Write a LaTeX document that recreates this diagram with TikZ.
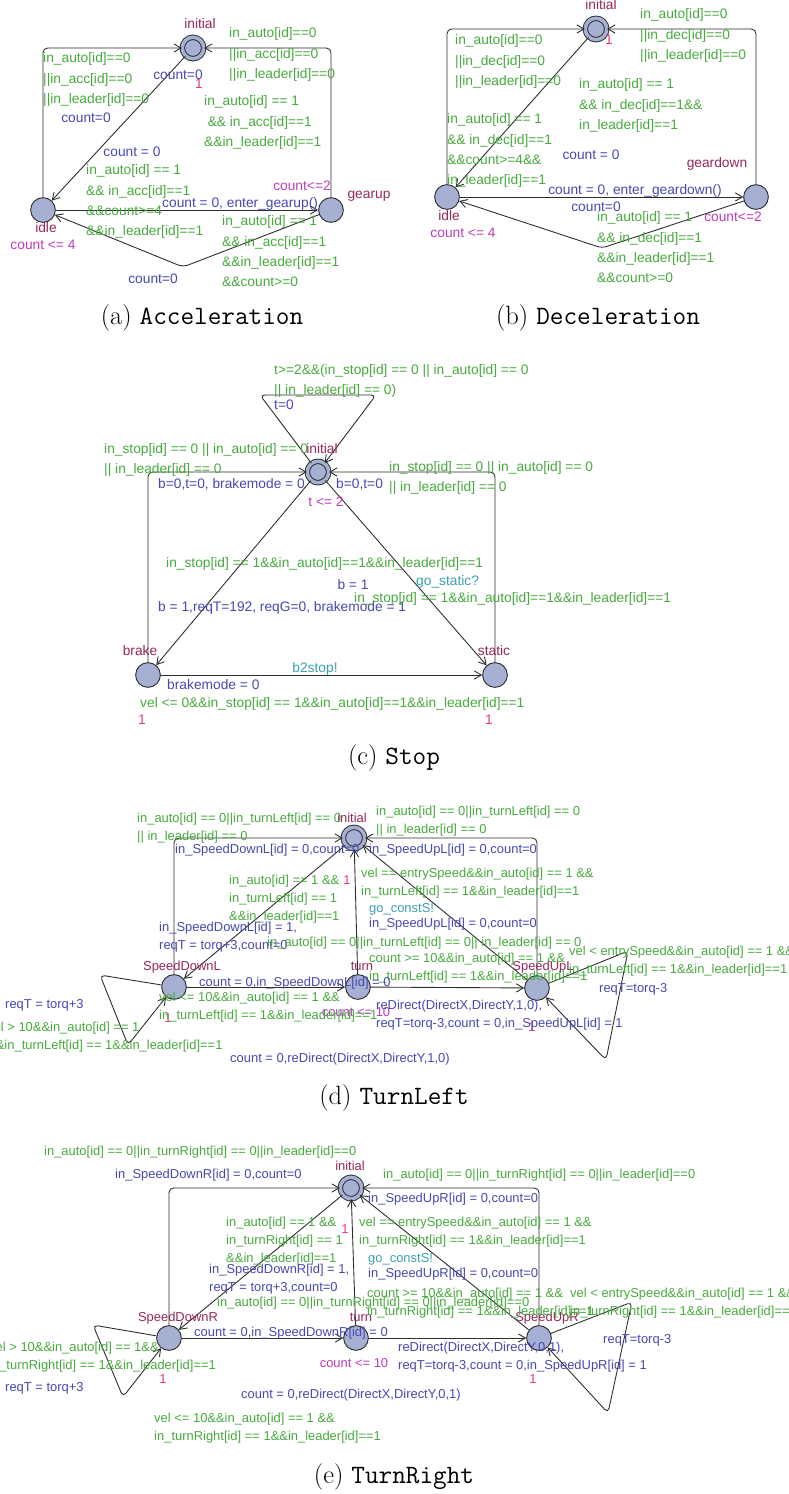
\documentclass[tikz,border=0pt]{standalone}
\usepackage{fontspec}
\newfontfamily\uppaalfont{Liberation Sans}
\usepackage{xcolor}
\definecolor{colorGuard}{RGB}{72,170,62}
\definecolor{colorUpdate}{RGB}{72,72,180}
\definecolor{colorSync}{RGB}{60,160,180}
\definecolor{colorInv}{RGB}{190,60,190}
\definecolor{colorName}{RGB}{150,40,90}
\definecolor{colorRate}{RGB}{230,60,120}
\definecolor{colorLoc}{RGB}{166,176,210}
\definecolor{colorEdge}{RGB}{45,45,45}
\usepackage{tikz}
\usetikzlibrary{arrows.meta}
\newcommand{\lbllines}[1]{\begin{tabular}[t]{@{}l@{}}#1\end{tabular}}
\tikzset{
  loc/.style={circle, draw=colorEdge, line width=0.8pt, fill=colorLoc, minimum size=21pt, inner sep=0pt},
  initloc/.style={loc, minimum size=18.2pt, double=colorLoc, double distance=3pt},
  trans/.style={draw=colorEdge, line width=0.75pt, ->, rounded corners=4pt},
  lbl/.style={inner sep=0pt, anchor=base west, yshift=-3.4pt, font=\uppaalfont\fontsize{11.7}{17.2}\selectfont},
  lblc/.style={lbl, anchor=base},
  guard/.style={lbl, text=colorGuard},
  assign/.style={lbl, text=colorUpdate},
  assignc/.style={lblc, text=colorUpdate},
  sync/.style={lbl, text=colorSync},
  syncc/.style={lblc, text=colorSync},
  locname/.style={lblc, text=colorName},
  invlbl/.style={lblc, text=colorInv},
  ratelbl/.style={lblc, text=colorRate},
  subcap/.style={inner sep=0pt, font=\fontsize{22.5}{27}\selectfont}
}
\begin{document}
\begin{tikzpicture}[x=0.85pt, y=-0.85pt, >={Straight Barb[length=6pt,width=7pt]}]
\useasboundingbox (0,0) rectangle (788,1494);
\fill[white] (0,0) rectangle (788,1494);

% (a) Acceleration
\node[initloc] (aInit) at (193,48) {};
\node[loc] (aIdle) at (43,210) {};
\node[loc] (aGear) at (331,210) {};
\coordinate (aBend) at (183,267);
\draw[trans] (aIdle) |- (aInit);
\draw[trans] (aGear) |- (aInit);
\draw[trans] (aInit) -- (aIdle);
\draw[trans] (aIdle) -- (aGear);
\draw[trans] (aGear) -- (aBend) -- (aIdle);
\node[locname] (aInitN) at (200,25) {initial};
\node[locname] (aIdleN) at (46,229) {idle};
\node[locname] (aGearN) at (369,195) {gearup};
\node[invlbl] (aIdleI) at (43,246) {count <= 4};
\node[invlbl] (aGearI) at (302,187) {count<=2};
\node[ratelbl] (aInitR) at (199,85) {1};
\node[guard] (aG1) at (43,59) {\lbllines{in\_auto[id]==0\\||in\_acc[id]==0\\||in\_leader[id]==0}};
\node[assignc] (aU1) at (86,119) {count=0};
\node[guard] (aG2) at (229,34) {\lbllines{in\_auto[id]==0\\||in\_acc[id]==0\\||in\_leader[id]==0}};
\node[assignc] (aU2) at (178,76) {count=0};
\node[guard] (aG3) at (204,102) {\lbllines{in\_auto[id] == 1\\\hspace*{3pt}\&\& in\_acc[id]==1\\\&\&in\_leader[id]==1}};
\node[assignc] (aU3) at (132,153) {count = 0};
\node[guard] (aG4) at (86,171) {\lbllines{in\_auto[id] == 1\\\&\& in\_acc[id]==1\\\&\&count>=4\\\&\&in\_leader[id]==1}};
\node[assign] (aU4) at (162,204) {count = 0, enter\_gearup()};
\node[guard] (aG5) at (222,222) {\lbllines{in\_auto[id] == 1\\\&\& in\_acc[id]==1\\\&\&in\_leader[id]==1\\\&\&count>=0}};
\node[assignc] (aU5) at (153,280) {count=0};
\node[subcap] (aCap) at (202,318) {(a) \texttt{Acceleration}};

% (b) Deceleration
\node[initloc] (bInit) at (596,29) {};
\node[loc] (bIdle) at (447,197) {};
\node[loc] (bGear) at (756,197) {};
\coordinate (bBend) at (602,248);
\draw[trans] (bIdle) |- (bInit);
\draw[trans] (bGear) |- (bInit);
\draw[trans] (bInit) -- (bIdle);
\draw[trans] (bIdle) -- (bGear);
\draw[trans] (bGear) -- (bBend) -- (bIdle);
\node[locname] (bInitN) at (601,6) {initial};
\node[locname] (bIdleN) at (449,217) {idle};
\node[locname] (bGearN) at (717,164) {geardown};
\node[invlbl] (bIdleI) at (463,234) {count <= 4};
\node[invlbl] (bGearI) at (733,218) {count<=2};
\node[ratelbl] (bInitR) at (609,41) {1};
\node[guard] (bG1) at (455,41) {\lbllines{in\_auto[id]==0\\||in\_dec[id]==0\\||in\_leader[id]==0}};
\node[guard] (bG2) at (640,15) {\lbllines{in\_auto[id]==0\\||in\_dec[id]==0\\||in\_leader[id]==0}};
\node[guard] (bG3) at (447,120) {\lbllines{in\_auto[id] == 1\\\&\& in\_dec[id]==1\\\&\&count>=4\&\&\\in\_leader[id]==1}};
\node[guard] (bG4) at (579,85) {\lbllines{in\_auto[id] == 1\\\&\& in\_dec[id]==1\&\&\\in\_leader[id]==1}};
\node[assignc] (bU1) at (591,156) {count = 0};
\node[assignc] (bU2) at (635,191) {count = 0, enter\_geardown()};
\node[assignc] (bU3) at (596,208) {count=0};
\node[guard] (bG5) at (597,218) {\lbllines{in\_auto[id] == 1\\\&\& in\_dec[id]==1\\\&\&in\_leader[id]==1\\\&\&count>=0}};
\node[subcap] (bCap) at (598,318) {(b) \texttt{Deceleration}};

% (c) Stop
\node[initloc] (cInit) at (318,472) {};
\node[loc] (cBrake) at (148,675) {};
\node[loc] (cStatic) at (495,675) {};
\coordinate (cLoopA) at (260,395);
\coordinate (cLoopB) at (376,395);
\draw[trans] (cInit) -- (cLoopA) -- (cLoopB) -- (cInit);
\draw[trans] (cBrake) |- (cInit);
\draw[trans] (cStatic) |- (cInit);
\draw[trans] (cInit) -- (cBrake);
\draw[trans] (cInit) -- (cStatic);
\draw[trans] (cBrake) -- (cStatic);
\node[locname] (cInitN) at (322,449) {initial};
\node[locname] (cBrakeN) at (140,651) {brake};
\node[locname] (cStaticN) at (494,651) {static};
\node[invlbl] (cInitI) at (326,502) {t <= 2};
\node[ratelbl] (cBrakeR) at (142,720) {1};
\node[ratelbl] (cStaticR) at (489,720) {1};
\node[guard] (cG1) at (274,370) {\lbllines{t>=2\&\&(in\_stop[id] == 0 || in\_auto[id] == 0\\|| in\_leader[id] == 0)}};
\node[assign] (cU1) at (274,405) {t=0};
\node[guard] (cG2) at (104,449) {\lbllines{in\_stop[id] == 0 || in\_auto[id] == 0\\|| in\_leader[id] == 0}};
\node[assign] (cU2) at (158,484) {b=0,t=0, brakemode = 0};
\node[guard] (cG3) at (389,467) {\lbllines{in\_stop[id] == 0 || in\_auto[id] == 0\\|| in\_leader[id] == 0}};
\node[assign] (cU3) at (336,484) {b=0,t=0};
\node[guard] (cG4) at (166,563) {in\_stop[id] == 1\&\&in\_auto[id]==1\&\&in\_leader[id]==1};
\node[assign] (cU4) at (158,607) {b = 1,reqT=192, reqG=0, brakemode = 1};
\node[sync] (cS1) at (416,581) {go\_static?};
\node[assignc] (cU5) at (353,585) {b = 1};
\node[guard] (cG5) at (354,598) {in\_stop[id] == 1\&\&in\_auto[id]==1\&\&in\_leader[id]==1};
\node[syncc] (cS2) at (315,668) {b2stop!};
\node[assign] (cU6) at (167,685) {brakemode = 0};
\node[guard] (cG6) at (140,703) {vel <= 0\&\&in\_stop[id] == 1\&\&in\_auto[id]==1\&\&in\_leader[id]==1};
\node[subcap] (cCap) at (394,758) {(c) \texttt{Stop}};

\begin{scope}[lbl/.append style={font=\uppaalfont\fontsize{11}{15.3}\selectfont}]
% (d) TurnLeft
\node[initloc] (dInit) at (354,838) {};
\node[loc] (dDown) at (174,987) {};
\node[loc] (dTurn) at (358,987) {};
\node[loc] (dUp) at (537,988) {};
\coordinate (dDownA) at (100,975);
\coordinate (dDownB) at (128,1045);
\coordinate (dUpA) at (628,951);
\coordinate (dUpB) at (606,1060);
\draw[trans] (dDown) |- (dInit);
\draw[trans] (dUp) |- (dInit);
\draw[trans] (dInit) -- (dDown);
\draw[trans] (dUp) -- (dInit);
\draw[trans] (dTurn) -- (dInit);
\draw[trans] (dDown) -- (dTurn);
\draw[trans] (dTurn) -- (dUp);
\draw[trans] (dDown) -- (dDownA) -- (dDownB) -- (dDown);
\draw[trans] (dUp) -- (dUpA) -- (dUpB) -- (dUp);
\node[locname] (dInitN) at (352,818) {initial};
\node[locname] (dDownN) at (182,966) {SpeedDownL};
\node[locname] (dTurnN) at (362,966) {turn};
\node[locname] (dUpN) at (543,966) {SpeedUpL};
\node[invlbl] (dTurnI) at (356,1012) {count <= 10};
\node[ratelbl] (dDownR) at (168,1018) {1};
\node[ratelbl] (dInitR) at (347,880) {1};
\node[ratelbl] (dUpR) at (532,1027) {1};
\node[guard] (dG1) at (137,818) {\lbllines{in\_auto[id] == 0||in\_turnLeft[id] == 0\\|| in\_leader[id] == 0}};
\node[assign] (dU1) at (175,849) {in\_SpeedDownL[id] = 0,count=0};
\node[guard] (dG2) at (376,811) {\lbllines{in\_auto[id] == 0||in\_turnLeft[id] == 0\\|| in\_leader[id] == 0}};
\node[assign] (dU2) at (369,849) {in\_SpeedUpL[id] = 0,count=0};
\node[guard] (dG3) at (229,880) {\lbllines{in\_auto[id] == 1 \&\&\\in\_turnLeft[id] == 1\\\&\&in\_leader[id]==1}};
\node[assign] (dU3) at (159,927) {\lbllines{in\_SpeedDownL[id] = 1,\\reqT = torq+3,count=0}};
\node[guard] (dG4) at (361,873) {\lbllines{vel == entrySpeed\&\&in\_auto[id] == 1 \&\&\\in\_turnLeft[id] == 1\&\&in\_leader[id]==1}};
\node[sync] (dS1) at (369,908) {go\_constS!};
\node[assign] (dU4) at (369,923) {in\_SpeedUpL[id] = 0,count=0};
\node[guard] (dG5) at (267,942) {in\_auto[id] == 0||in\_turnLeft[id] == 0|| in\_leader[id] == 0};
\node[guard] (dG6) at (369,958) {\lbllines{count >= 10\&\&in\_auto[id] == 1 \&\&\\in\_turnLeft[id] == 1\&\&in\_leader[id]==1}};
\node[assign] (dU5) at (199,982) {count = 0,in\_SpeedDownL[id] = 0};
\node[guard] (dG7) at (159,997) {\lbllines{vel <= 10\&\&in\_auto[id] == 1 \&\&\\in\_turnLeft[id] == 1\&\&in\_leader[id]==1}};
\node[assign] (dU6) at (376,1005) {\lbllines{reDirect(DirectX,DirectY,1,0),\\reqT=torq-3,count = 0,in\_SpeedUpL[id] = 1}};
\node[assign] (dU7) at (230,1058) {count = 0,reDirect(DirectX,DirectY,1,0)};
\node[assign] (dU8) at (5,1004) {reqT = torq+3};
\node[guard] (dG8) at (-13,1027) {\lbllines{vel > 10\&\&in\_auto[id] == 1\\\&\&in\_turnLeft[id] == 1\&\&in\_leader[id]==1}};
\node[guard] (dG9) at (569,951) {\lbllines{vel < entrySpeed\&\&in\_auto[id] == 1 \&\&\\in\_turnLeft[id] == 1\&\&in\_leader[id]==1}};
\node[assign] (dU9) at (599,988) {reqT=torq-3};
\node[subcap] (dCap) at (394,1098) {(d) \texttt{TurnLeft}};

% (e) TurnRight
\node[initloc] (eInit) at (351,1188) {};
\node[loc] (eDown) at (169,1338) {};
\node[loc] (eTurn) at (356,1338) {};
\node[loc] (eUp) at (539,1338) {};
\coordinate (eDownA) at (93,1325);
\coordinate (eDownB) at (123,1397);
\coordinate (eUpA) at (632,1302);
\coordinate (eUpB) at (608,1413);
\draw[trans] (eDown) |- (eInit);
\draw[trans] (eUp) |- (eInit);
\draw[trans] (eInit) -- (eDown);
\draw[trans] (eUp) -- (eInit);
\draw[trans] (eTurn) -- (eInit);
\draw[trans] (eDown) -- (eTurn);
\draw[trans] (eTurn) -- (eUp);
\draw[trans] (eDown) -- (eDownA) -- (eDownB) -- (eDown);
\draw[trans] (eUp) -- (eUpA) -- (eUpB) -- (eUp);
\node[locname] (eInitN) at (350,1166) {initial};
\node[locname] (eDownN) at (178,1317) {SpeedDownR};
\node[locname] (eTurnN) at (361,1317) {turn};
\node[locname] (eUpN) at (547,1317) {SpeedUpR};
\node[invlbl] (eTurnI) at (354,1363) {count <= 10};
\node[ratelbl] (eDownR) at (163,1379) {1};
\node[ratelbl] (eInitR) at (345,1229) {1};
\node[ratelbl] (eUpR) at (533,1379) {1};
\node[guard] (eG1) at (44,1151) {in\_auto[id] == 0||in\_turnRight[id] == 0||in\_leader[id]==0};
\node[assign] (eU1) at (115,1174) {in\_SpeedDownR[id] = 0,count=0};
\node[guard] (eG2) at (383,1174) {in\_auto[id] == 0||in\_turnRight[id] == 0||in\_leader[id]==0};
\node[assign] (eU2) at (368,1198) {in\_SpeedUpR[id] = 0,count=0};
\node[guard] (eG3) at (226,1222) {\lbllines{in\_auto[id] == 1 \&\&\\in\_turnRight[id] == 1\\\&\&in\_leader[id]==1}};
\node[assign] (eU3) at (209,1269) {\lbllines{in\_SpeedDownR[id] = 1,\\reqT = torq+3,count=0}};
\node[guard] (eG4) at (359,1222) {\lbllines{vel == entrySpeed\&\&in\_auto[id] == 1 \&\&\\in\_turnRight[id] == 1\&\&in\_leader[id]==1}};
\node[sync] (eS1) at (368,1258) {go\_constS!};
\node[assign] (eU4) at (368,1273) {in\_SpeedUpR[id] = 0,count=0};
\node[guard] (eG5) at (217,1302) {in\_auto[id] == 0||in\_turnRight[id] == 0||in\_leader[id]==0};
\node[guard] (eG6) at (367,1293) {\lbllines{count >= 10\&\&in\_auto[id] == 1 \&\&\\in\_turnRight[id] == 1\&\&in\_leader[id]==1}};
\node[assign] (eU5) at (194,1332) {count = 0,in\_SpeedDownR[id] = 0};
\node[assign] (eU6) at (398,1347) {\lbllines{reDirect(DirectX,DirectY,0,1),\\reqT=torq-3,count = 0,in\_SpeedUpR[id] = 1}};
\node[assign] (eU7) at (241,1394) {count = 0,reDirect(DirectX,DirectY,0,1)};
\node[guard] (eG7) at (154,1418) {\lbllines{vel <= 10\&\&in\_auto[id] == 1 \&\&\\in\_turnRight[id] == 1\&\&in\_leader[id]==1}};
\node[guard] (eG8) at (-11,1347) {\lbllines{vel > 10\&\&in\_auto[id] == 1\&\&\\in\_turnRight[id] == 1\&\&in\_leader[id]==1}};
\node[assign] (eU8) at (5,1387) {reqT = torq+3};
\node[guard] (eG9) at (570,1293) {\lbllines{vel < entrySpeed\&\&in\_auto[id] == 1 \&\&\\in\_turnRight[id] == 1\&\&in\_leader[id]==1}};
\node[assign] (eU9) at (603,1339) {reqT=torq-3};
\node[subcap] (eCap) at (394,1477) {(e) \texttt{TurnRight}};
\end{scope}
\end{tikzpicture}
\end{document}
